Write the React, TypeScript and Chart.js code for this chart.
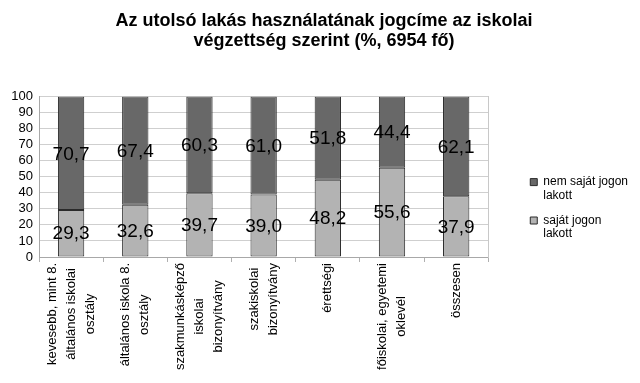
import React, { useEffect, useRef } from "react";
import { Chart, registerables } from "chart.js";

Chart.register(...registerables);

const TITLE_LINES = [
  "Az utolsó lakás használatának jogcíme az iskolai",
  "végzettség szerint (%, 6954 fő)",
];

const CATEGORIES: string[][] = [
  ["kevesebb, mint 8.", "általános iskolai", "osztály"],
  ["általános iskola 8.", "osztály"],
  ["szakmunkásképző", "iskolai", "bizonyítvány"],
  ["szakiskolai", "bizonyítvány"],
  ["érettségi"],
  ["főiskolai, egyetemi", "oklevél"],
  ["összesen"],
];

const OWN_LABEL = ["saját jogon", "lakott"];
const NOT_OWN_LABEL = ["nem saját jogon", "lakott"];

const OWN_VALUES = [29.3, 32.6, 39.7, 39.0, 48.2, 55.6, 37.9];
const NOT_OWN_VALUES = [70.7, 67.4, 60.3, 61.0, 51.8, 44.4, 62.1];

const Y_MIN = 0;
const Y_MAX = 100;
const Y_STEP = 10;

const FONT = "'Liberation Sans', Arial, Helvetica, sans-serif";

const valueLabelPlugin = {
  id: "valueLabels",
  afterDatasetsDraw(chart: any) {
    const ctx = chart.ctx;
    ctx.save();
    ctx.font = `19px ${FONT}`;
    ctx.fillStyle = "#000";
    ctx.textAlign = "center";
    ctx.textBaseline = "middle";
    chart.data.datasets.forEach((ds: any, di: number) => {
      const meta = chart.getDatasetMeta(di);
      meta.data.forEach((el: any, i: number) => {
        const { x, y, base } = el.getProps(["x", "y", "base"], true);
        const v = ds.data[i] as number;
        ctx.fillText(v.toFixed(1).replace(".", ","), x, (y + base) / 2 + 1);
      });
    });
    ctx.restore();
  },
};

const xLabelPlugin = {
  id: "xLabels",
  afterDraw(chart: any) {
    const ctx = chart.ctx;
    const xs = chart.scales.x;
    ctx.save();
    ctx.font = `13px ${FONT}`;
    ctx.fillStyle = "#000";
    ctx.textAlign = "center";
    ctx.textBaseline = "middle";
    const lineGap = 19;
    CATEGORIES.forEach((lines, i) => {
      const px = xs.getPixelForValue(i);
      const w = Math.max(...lines.map((l) => ctx.measureText(l).width));
      const top = xs.top + 6;
      const cy = top + w / 2;
      lines.forEach((line, j) => {
        const cx = px + (j - (lines.length - 1) / 2) * lineGap;
        ctx.save();
        ctx.translate(cx, cy);
        ctx.rotate(-Math.PI / 2);
        ctx.fillText(line, 0, 0);
        ctx.restore();
      });
    });
    ctx.restore();
  },
};

export default function App() {
  const canvasRef = useRef<HTMLCanvasElement | null>(null);

  useEffect(() => {
    if (!canvasRef.current) return;
    const chart = new Chart(canvasRef.current, {
      type: "bar",
      data: {
        labels: CATEGORIES.map((c) => c.join(" ")),
        datasets: [
          {
            label: OWN_LABEL.join(" "),
            data: OWN_VALUES,
            backgroundColor: "#b3b3b3",
            borderColor: "#2a2a2a",
            borderWidth: 1,
            borderSkipped: false,
            categoryPercentage: 1,
            barPercentage: 0.41,
          },
          {
            label: NOT_OWN_LABEL.join(" "),
            data: NOT_OWN_VALUES,
            backgroundColor: "#686868",
            borderColor: "#2a2a2a",
            borderWidth: 1,
            borderSkipped: false,
            categoryPercentage: 1,
            barPercentage: 0.41,
          },
        ],
      },
      options: {
        animation: false,
        responsive: true,
        maintainAspectRatio: false,
        layout: { padding: { left: 10, right: 2, top: 0, bottom: 0 } },
        plugins: {
          title: {
            display: true,
            text: TITLE_LINES,
            color: "#000",
            font: { family: FONT, size: 18, weight: "bold", lineHeight: 1.1 },
            padding: { top: 11, bottom: 46 },
          },
          legend: {
            position: "right",
            reverse: true,
            maxWidth: 160,
            title: {
              display: true,
              text: " ",
              padding: 11,
              font: { family: FONT, size: 12, lineHeight: 1 },
            },
            labels: {
              color: "#000",
              font: { family: FONT, size: 12, lineHeight: 1.1 },
              boxWidth: 7,
              boxHeight: 7,
              padding: 12,
              generateLabels(chart: any) {
                const items = Chart.defaults.plugins.legend.labels.generateLabels(chart);
                return items.map((it: any) => ({
                  ...it,
                  text: it.datasetIndex === 0 ? OWN_LABEL : NOT_OWN_LABEL,
                }));
              },
            },
          },
          tooltip: { enabled: false },
        },
        scales: {
          x: {
            stacked: true,
            grid: {
              offset: true,
              drawOnChartArea: false,
              drawTicks: true,
              tickLength: 5,
              color: "#b0b0b0",
            },
            border: { display: true, color: "#a8a8a8" },
            ticks: { display: false },
            afterFit(scale: any) {
              scale.height = 126;
            },
          },
          y: {
            stacked: true,
            min: Y_MIN,
            max: Y_MAX,
            ticks: {
              stepSize: Y_STEP,
              autoSkip: false,
              color: "#000",
              font: { family: FONT, size: 13 },
              padding: 6,
            },
            grid: { color: "#cfcfcf", drawTicks: false },
            border: { display: true, color: "#a8a8a8" },
            afterFit(scale: any) {
              scale.width = 29;
            },
          },
          y2: {
            position: "right",
            display: true,
            ticks: { display: false },
            grid: { drawOnChartArea: false, drawTicks: false },
            border: { display: true, color: "#c8c8c8" },
            afterFit(scale: any) {
              scale.width = 30;
            },
          },
        },
      },
      plugins: [valueLabelPlugin, xLabelPlugin],
    } as any);
    return () => chart.destroy();
  }, []);

  return (
    <div style={{ position: "fixed", left: 0, top: 0, width: 640, height: 383, background: "#fff" }}>
      <canvas ref={canvasRef} />
    </div>
  );
}
